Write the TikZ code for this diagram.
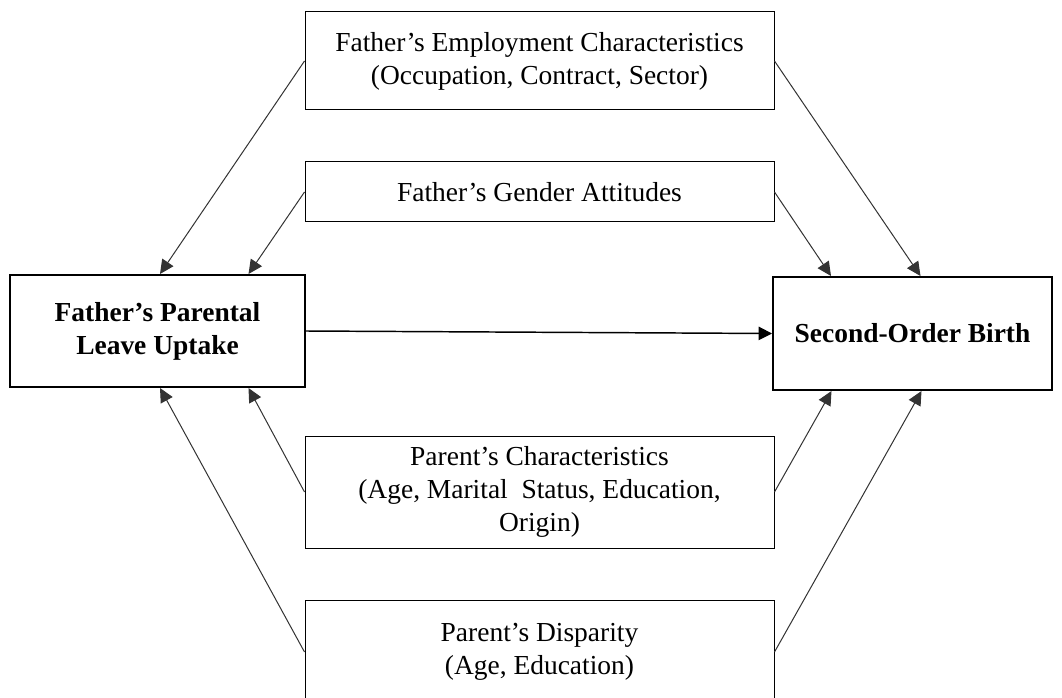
\documentclass[tikz,border=0pt]{standalone}
\usepackage{fontspec}
\setmainfont{Liberation Serif}
\usetikzlibrary{arrows.meta,calc}
\begin{document}
\begin{tikzpicture}[x=0.75pt,y=-0.75pt,
  every node/.style={font=\fontsize{20.6}{24.75}\selectfont, align=center, inner sep=0pt},
  midbox/.style={draw=black, line width=0.75pt, minimum width=351.75pt},
  mainbox/.style={draw=black, line width=1.5pt, font=\fontsize{20.6}{24.75}\selectfont\bfseries},
  conn/.style={draw=black!80, line width=0.75pt, -{Triangle[length=10.5pt,width=10pt]}},
  mainconn/.style={draw=black, line width=1.1pt, -{Triangle[length=10pt,width=10pt]}}]
\useasboundingbox (0,0) rectangle (1062,698);
\clip (0,0) rectangle (1062,698);
\fill[white] (0,0) rectangle (1062,698);
% nodes
\node[midbox, minimum height=73.5pt] (T) at (539.5,61) {Father’s Employment Characteristics\\(Occupation, Contract, Sector)};
\node[midbox, minimum height=45pt] (G) at (539.5,192) {Father’s Gender Attitudes};
\node[midbox, minimum height=84pt] (P) at (539.5,492) {Parent’s Characteristics\\(Age, Marital\ \ Status, Education,\\Origin)};
\node[midbox, minimum height=78pt] (D) at (539.5,652) {Parent’s Disparity\\(Age, Education)};
\node[mainbox, minimum width=221.25pt, minimum height=84pt] (L) at (157.5,331) {Father’s Parental\\Leave Uptake};
\node[mainbox, minimum width=209.25pt, minimum height=84.75pt] (R) at (912.5,333.5) {Second-Order Birth};
% connectors
\draw[conn] (T.west) -- ($(L.north)+(2.5,0)$);
\draw[conn] (G.west) -- ($(L.north)+(91,0)$);
\draw[conn] (P.west) -- ($(L.south)+(91,0)$);
\draw[conn] (D.west) -- ($(L.south)+(2.5,0)$);
\draw[conn] (T.east) -- ($(R.north)+(8,0)$);
\draw[conn] (G.east) -- ($(R.north)+(-81.5,0)$);
\draw[conn] (P.east) -- ($(R.south)+(-81,0)$);
\draw[conn] (D.east) -- ($(R.south)+(9,0)$);
\draw[mainconn] (L.east) -- (R.west);
\end{tikzpicture}
\end{document}
